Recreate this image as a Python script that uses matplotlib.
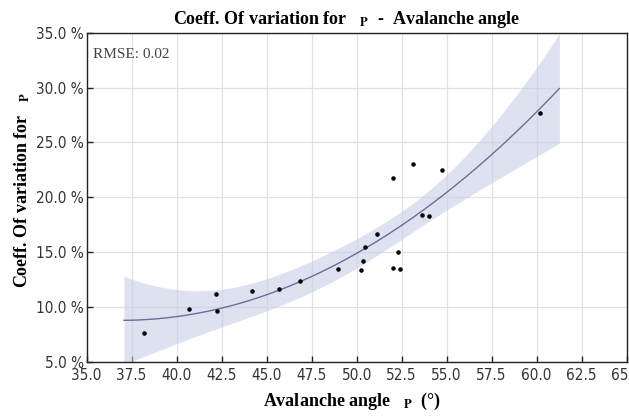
import numpy as np
import matplotlib
matplotlib.use("Agg")
import matplotlib.pyplot as plt

# avalanche angle (deg) and coefficient of variation (%)
angle = [38.2, 40.67, 42.18, 42.24, 44.18, 45.68, 46.85, 48.96, 50.22, 50.33,
         50.46, 51.11, 52.03, 53.13, 54.76, 53.61, 54.0, 52.28, 52.03, 52.42, 60.18]
cov = [7.67, 9.83, 11.22, 9.67, 11.44, 11.62, 12.40, 13.50, 13.41, 14.20,
       15.47, 16.68, 21.73, 23.03, 22.51, 18.36, 18.27, 14.99, 13.53, 13.44, 27.68]

xticks = [35.0, 37.5, 40.0, 42.5, 45.0, 47.5, 50.0, 52.5, 55.0, 57.5, 60.0, 62.5, 65.0]
yticks = [5, 10, 15, 20, 25, 30, 35]
fit_range = (37.07, 61.26)
rmse_txt = "RMSE: 0.02"

x = np.array(angle)
y = np.array(cov)

# quadratic regression with 95% confidence band
X = np.vstack([np.ones_like(x), x, x**2]).T
beta, res, rk, sv = np.linalg.lstsq(X, y, rcond=None)
n = len(x)
s2 = np.sum((y - X @ beta)**2) / (n - 3)
cov_b = s2 * np.linalg.inv(X.T @ X)
xs = np.linspace(fit_range[0], fit_range[1], 200)
Xs = np.vstack([np.ones_like(xs), xs, xs**2]).T
ys = Xs @ beta
se = np.sqrt(np.einsum('ij,jk,ik->i', Xs, cov_b, Xs))
t = 2.101
lo = ys - t*se
hi = ys + t*se

plt.rcParams['mathtext.fontset'] = 'stix'

fig = plt.figure(figsize=(6.29, 4.16), dpi=100)
ax = fig.add_axes([0.1378, 0.1298, 0.8585, 0.7916])

ax.fill_between(xs, lo, hi, color="#c9cde6", alpha=0.6, lw=0, zorder=2)
ax.plot(xs, ys, color="#6a6e9c", lw=1.0, zorder=3)
ax.scatter(x, y, s=5, color="black", zorder=4)

ax.set_xlim(35, 65)
ax.set_ylim(5, 35)
ax.set_xticks(xticks)
ax.set_yticks(yticks)
ax.set_xticklabels([f"{v:.1f}" for v in xticks])
ax.set_yticklabels([f"{v:.1f} %" for v in yticks])
ax.grid(True, color="#e2e2e2", lw=0.9, zorder=0)
ax.set_axisbelow(True)
ax.tick_params(direction="in", length=4, width=1, colors="#222222", labelsize=11, pad=4)
ax.tick_params(axis="y", pad=2)
for lab in ax.get_xticklabels() + ax.get_yticklabels():
    lab.set_fontstretch("condensed")
    lab.set_color("#333333")
for sp in ax.spines.values():
    sp.set_color("#222222")
    sp.set_linewidth(1.0)

ax.text(0.012, 0.955, rmse_txt, transform=ax.transAxes, ha="left", va="top",
        family="Liberation Serif", fontsize=11, color="#444444")

fig.text(0.551, 1 - 24/416, r"Coeff. Of variation for   $_{\mathbf{P}}$  -  Avalanche angle",
         ha="center", va="baseline", family="Liberation Serif", fontweight="bold", fontsize=13)
fig.text(0.559, 1 - 406/416, r"Avalanche angle   $_{\mathbf{P}}$  (°)",
         ha="center", va="baseline", family="Liberation Serif", fontweight="bold", fontsize=13)
fig.text(0.036, 1 - 190/416, r"Coeff. Of variation for   $_{\mathbf{P}}$",
         ha="center", va="center", rotation=90, family="Liberation Serif",
         fontweight="bold", fontsize=13)

fig.savefig("out.png", dpi=100)
